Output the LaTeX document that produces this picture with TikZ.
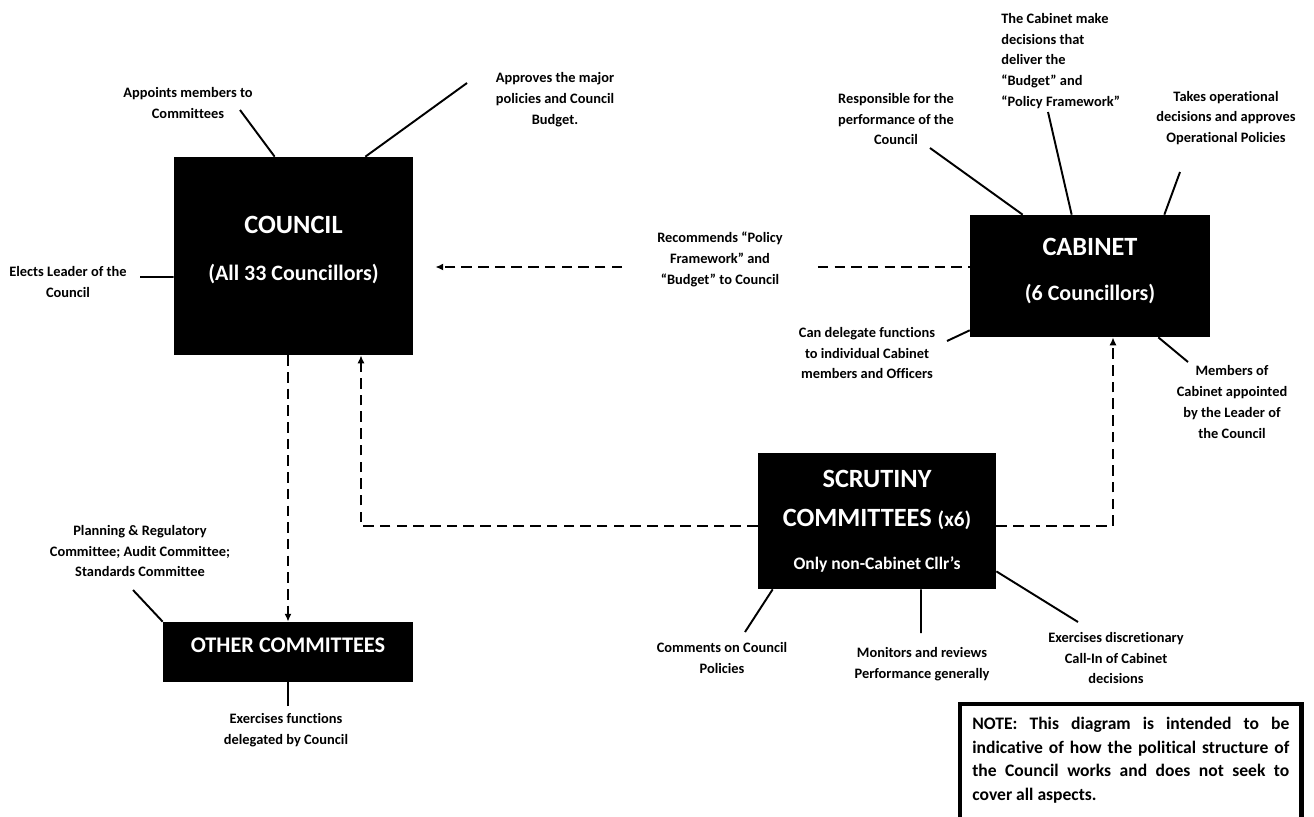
\documentclass[tikz,border=0pt]{standalone}
\usepackage{fontspec}
\setmainfont{Carlito}[Ligatures={TeX,NoCommon}]
\usetikzlibrary{arrows.meta}

\begin{document}
\begin{tikzpicture}[x=0.02cm, y=-0.02cm,
        box/.style={fill=black, text=white, align=center, inner sep=0pt, font=\bfseries\fontsize{15}{26}\selectfont},
        lbl/.style={align=center, inner sep=0pt, font=\bfseries\fontsize{8.2}{11.9}\selectfont},
        link/.style={line width=1.1pt},
        flow/.style={line width=1.3pt, dash pattern=on 6pt off 3.5pt},
        tip/.style={-{Latex[length=4.5pt, width=4pt]}}]
            \useasboundingbox (0,0) rectangle (1314,816);

            \node[box, minimum width=4.78cm, minimum height=3.96cm, text depth=8.5pt] (council) at (293.5,256) {COUNCIL\\[1pt]{\fontsize{12.5}{15}\selectfont(All 33 Councillors)}};
            \node[box, minimum width=4.8cm, minimum height=2.44cm, text depth=7.5pt] (cabinet) at (1090,276) {CABINET\\{\fontsize{12.5}{15}\selectfont(6 Councillors)}};
            \node[box, minimum width=4.76cm, minimum height=2.72cm, font=\bfseries\fontsize{15}{22}\selectfont] (scrutiny) at (877,521) {SCRUTINY\\COMMITTEES {\fontsize{12}{14}\selectfont(x6)}\\[2.5pt]{\fontsize{10}{12}\selectfont Only non-Cabinet Cllr’s}};
            \node[box, minimum width=5cm, minimum height=1.2cm, text height=5pt, text depth=5pt, font=\bfseries\fontsize{12.7}{15}\selectfont] (other) at (288,652) {OTHER COMMITTEES};

            \node[lbl] (appoint) at (188,103) {Appoints members to\\Committees};
            \node[lbl] (approve) at (555,100) {Approves the major\\policies and Council\\Budget.};
            \node[lbl] (elect) at (68,282) {Elects Leader of the\\Council};
            \node[lbl] (respons) at (896,119) {Responsible for the\\performance of the\\Council};
            \node[lbl, align=left, anchor=west] (deliver) at (1001,61) {The Cabinet make\\decisions that\\deliver the\\“Budget” and\\“Policy Framework”};
            \node[lbl] (operate) at (1226,118) {Takes operational\\decisions and approves\\Operational Policies};
            \node[lbl] (delegate) at (867,353) {Can delegate functions\\to individual Cabinet\\members and Officers};
            \node[lbl] (appointed) at (1232,402) {Members of\\Cabinet appointed\\by the Leader of\\the Council};
            \node[lbl, minimum width=3.9cm] (recommend) at (720,259) {Recommends “Policy\\Framework” and\\“Budget” to Council};
            \node[lbl] (planning) at (140,551) {Planning \& Regulatory\\Committee; Audit Committee;\\Standards Committee};
            \node[lbl] (exfunc) at (286,730) {Exercises functions\\delegated by Council};
            \node[lbl] (comment) at (722,658) {Comments on Council\\Policies};
            \node[lbl] (monitor) at (922,664) {Monitors and reviews\\Performance generally};
            \node[lbl] (callin) at (1116,658) {Exercises discretionary\\Call-In of Cabinet\\decisions};

            \node[anchor=north west, text width=6.34cm, align=justify, inner xsep=0.24cm, inner ysep=0.25cm, font=\bfseries\fontsize{10}{13.6}\selectfont] (note) at (960,704) {NOTE: This diagram is intended to be\linebreak indicative of how the political structure of\linebreak the Council works and does not seek to\linebreak cover all aspects.};
            \draw[line width=2.8pt] (note.north west) rectangle ([yshift=-1cm]note.south east);

            \coordinate (a1) at (240,110);
            \coordinate (a2) at (467,83);
            \coordinate (a3) at (140,277);
            \coordinate (b1) at (930,148);
            \coordinate (b2) at (1048,112);
            \coordinate (b3) at (1180,172);
            \coordinate (b4) at (947,341);
            \coordinate (b5) at (1188,362);
            \coordinate (c1) at (745,632);
            \coordinate (c2) at (921,633);
            \coordinate (c3) at (1078,622);
            \coordinate (d1) at (133,590);
            \coordinate (d2) at (288,706);

            \draw[link] (a1) -- ([xshift=2.02cm]council.north west);
            \draw[link] (a2) -- ([xshift=-0.96cm]council.north east);
            \draw[link] (a3) -- ([yshift=-0.42cm]council.west);
            \draw[link] (b1) -- ([xshift=1.06cm]cabinet.north west);
            \draw[link] (b2) -- ([xshift=2.04cm]cabinet.north west);
            \draw[link] (b3) -- ([xshift=-0.92cm]cabinet.north east);
            \draw[link] (b4) -- ([yshift=0.14cm]cabinet.south west);
            \draw[link] (b5) -- ([xshift=-1.04cm]cabinet.south east);
            \draw[link] (c1) -- ([xshift=0.3cm]scrutiny.south west);
            \draw[link] (c2) -- ([xshift=0.88cm]scrutiny.south);
            \draw[link] (c3) -- ([yshift=0.36cm]scrutiny.south east);
            \draw[link] (d1) -- (other.north west);
            \draw[link] (d2) -- (other.south);

            \draw[flow, tip, shorten >=0.44cm] ([yshift=-0.16cm]recommend.west) -- ([yshift=-0.16cm]recommend.west -| council.east);
            \draw[flow] ([yshift=-0.16cm]recommend.east) -- ([yshift=-0.16cm]recommend.east -| cabinet.west);
            \draw[flow, tip] (council.south -| other.north) -- (other.north);
            \draw[flow, tip] ([yshift=-0.1cm]scrutiny.west) -| ([xshift=1.35cm]council.south);
            \draw[flow, tip] ([yshift=-0.1cm]scrutiny.east) -| ([xshift=0.46cm]cabinet.south);
\end{tikzpicture}
\end{document}
